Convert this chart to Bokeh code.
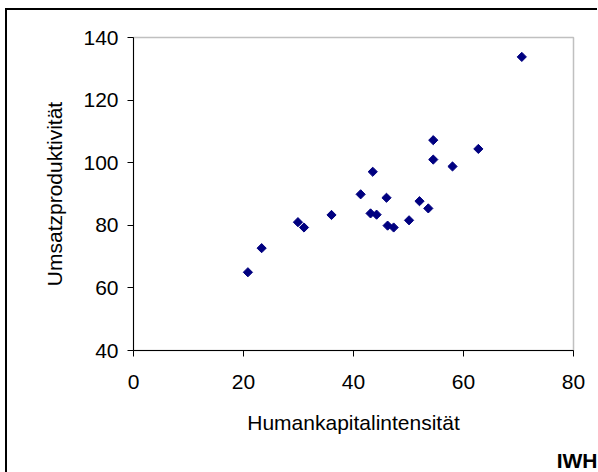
from math import pi

from bokeh.plotting import figure
from bokeh.models import Range1d, FixedTicker, Title
from bokeh.embed import file_html
from bokeh.resources import INLINE

# data
humankapital = [70.6, 54.5, 62.7, 54.5, 58.0, 43.5, 41.3, 46.0, 52.0, 53.6,
                43.1, 44.2, 50.1, 46.2, 47.3, 36.0, 31.0, 29.9, 23.3, 20.8]
umsatz = [133.8, 107.2, 104.4, 101.0, 98.8, 97.1, 89.9, 88.8, 87.7, 85.4,
          83.8, 83.4, 81.6, 79.9, 79.3, 83.3, 79.3, 81.0, 72.7, 65.0]
x_ticks = [0, 20, 40, 60, 80]
y_ticks = [40, 60, 80, 100, 120, 140]

FONT = "Liberation Sans"

p = figure(width=590, height=462, output_backend="svg", toolbar_location=None,
           x_range=Range1d(0, 80), y_range=Range1d(40, 140),
           frame_width=440, frame_height=313,
           min_border_left=126, min_border_top=27,
           min_border_right=24, min_border_bottom=122,
           styles={"margin-left": "5px", "margin-top": "8px",
                   "border-left": "2px solid black",
                   "border-top": "2px solid black"})

p.grid.visible = False
p.outline_line_color = "#c0c0c0"
p.outline_line_width = 1.5

p.xaxis.ticker = FixedTicker(ticks=x_ticks)
p.yaxis.ticker = FixedTicker(ticks=y_ticks)
p.xaxis.axis_label = "Humankapitalintensität"
p.yaxis.axis_label = "Umsatzproduktivität"

for ax in (p.xaxis, p.yaxis):
    ax.axis_line_color = "black"
    ax.major_tick_line_color = "black"
    ax.major_tick_out = 6
    ax.major_tick_in = 0
    ax.minor_tick_line_color = None
    ax.major_label_text_font = FONT
    ax.major_label_text_font_size = "21px"
    ax.major_label_text_color = "black"
    ax.axis_label_text_font = FONT
    ax.axis_label_text_font_size = "21px"
    ax.axis_label_text_font_style = "normal"
    ax.axis_label_text_color = "black"

p.xaxis.major_label_standoff = 18
p.xaxis.axis_label_standoff = 19
p.yaxis.major_label_standoff = 9
p.yaxis.axis_label_standoff = 14

p.scatter(humankapital, umsatz, marker="square", angle=pi / 4, size=6.5,
          fill_color="#000080", line_color="#000080")

# "IWH" source mark in the lower right corner
p.add_layout(Title(text="IWH", align="right", offset=-24, standoff=20,
                   text_font=FONT, text_font_size="21px",
                   text_font_style="bold", text_color="black"), "below")

open("out.html", "w").write(file_html(p, INLINE))
